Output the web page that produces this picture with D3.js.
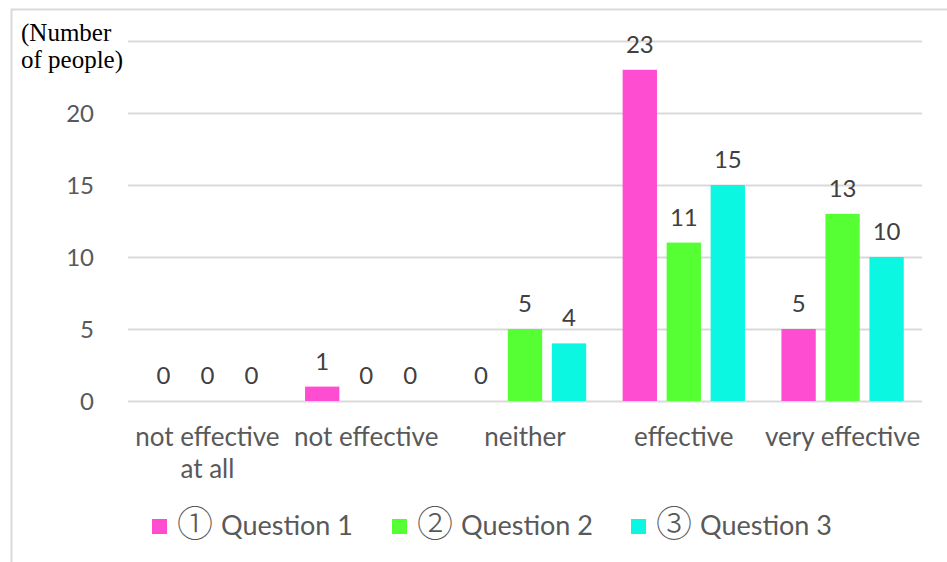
<!DOCTYPE html>
<html>
<head>
<meta charset="utf-8">
<script src="https://cdn.jsdelivr.net/npm/d3@7"></script>
<style>
  body { margin: 0; background: #fff; }
  text { font-family: Lato, "Open Sans", sans-serif; }
</style>
</head>
<body>
<div id="chart"></div>
<script>
var categories = ["not effective at all", "not effective", "neither", "effective", "very effective"];
var seriesMarks = ["①", "②", "③"];
var seriesNames = ["Question 1", "Question 2", "Question 3"];
var q1 = [0, 1, 0, 23, 5];
var q2 = [0, 0, 5, 11, 13];
var q3 = [0, 0, 4, 15, 10];
var colors = ["#ff4dd2", "#55ff33", "#0cf7e1"];
var yTicks = [0, 5, 10, 15, 20, 25];

var series = [q1, q2, q3];

var svg = d3.select("#chart").append("svg")
    .attr("width", 947)
    .attr("height", 562);

// frame
svg.append("path")
    .attr("d", "M11.5,562 V9.5 H947")
    .attr("fill", "none")
    .attr("stroke", "#d9d9d9")
    .attr("stroke-width", 2);

var x = d3.scaleBand().domain(categories).range([128, 922]);
var y = d3.scaleLinear().domain([0, 25]).range([401, 41]);
var xs = d3.scaleBand().domain([0, 1, 2]).range([-66, 66]).paddingInner(0.22).paddingOuter(0.11);

// gridlines
svg.append("g").selectAll("line")
    .data(yTicks)
    .enter().append("line")
    .attr("x1", 128).attr("x2", 922)
    .attr("y1", function(d) { return y(d) + 0.5; })
    .attr("y2", function(d) { return y(d) + 0.5; })
    .attr("stroke", "#d9d9d9")
    .attr("stroke-width", 2);

// y tick labels
svg.append("g").selectAll("text")
    .data(yTicks.filter(function(d) { return d < 25; }))
    .enter().append("text")
    .attr("x", 94)
    .attr("y", function(d) { return y(d) + 9; })
    .attr("text-anchor", "end")
    .attr("font-size", 24)
    .attr("fill", "#595959")
    .text(function(d) { return d; });

// y axis title
var yt = svg.append("text")
    .style("font-family", "'Liberation Serif', 'Times New Roman', serif")
    .attr("font-size", 25)
    .attr("fill", "#000");
yt.append("tspan").attr("x", 21).attr("y", 41).text("(Number");
yt.append("tspan").attr("x", 21).attr("y", 68).text("of people)");

// bars
series.forEach(function(vals, si) {
    var g = svg.append("g");
    g.selectAll("rect")
        .data(vals)
        .enter().append("rect")
        .attr("x", function(d, i) { return x(categories[i]) + x.bandwidth() / 2 + xs(si); })
        .attr("y", function(d) { return y(d); })
        .attr("width", xs.bandwidth())
        .attr("height", function(d) { return y(0) - y(d); })
        .attr("fill", colors[si]);
    g.selectAll("text")
        .data(vals)
        .enter().append("text")
        .attr("x", function(d, i) { return x(categories[i]) + x.bandwidth() / 2 + xs(si) + xs.bandwidth() / 2; })
        .attr("y", function(d) { return y(d) - 17; })
        .attr("text-anchor", "middle")
        .attr("font-size", 24)
        .attr("fill", "#404040")
        .text(function(d) { return d; });
});

// category labels
var catLines = {
    "not effective at all": ["not effective", "at all"]
};
categories.forEach(function(c) {
    var lines = catLines[c] || [c];
    var t = svg.append("text")
        .attr("text-anchor", "middle")
        .attr("font-size", 26)
        .attr("fill", "#595959");
    lines.forEach(function(l, li) {
        t.append("tspan")
            .attr("x", x(c) + x.bandwidth() / 2)
            .attr("y", 446 + li * 32)
            .text(l);
    });
});

// legend
var legendX = [152, 392, 631];
seriesNames.forEach(function(n, i) {
    svg.append("rect")
        .attr("x", legendX[i]).attr("y", 519)
        .attr("width", 15).attr("height", 15)
        .attr("fill", colors[i]);
    svg.append("text")
        .attr("x", legendX[i] + 25)
        .attr("y", 537)
        .attr("font-size", 36)
        .attr("font-weight", 300)
        .style("font-family", "'Noto Sans CJK JP', 'DejaVu Sans', sans-serif")
        .attr("fill", "#595959")
        .text(seriesMarks[i]);
    svg.append("text")
        .attr("x", legendX[i] + 69)
        .attr("y", 535)
        .attr("font-size", 27)
        .attr("fill", "#595959")
        .text(n);
});
</script>
</body>
</html>
